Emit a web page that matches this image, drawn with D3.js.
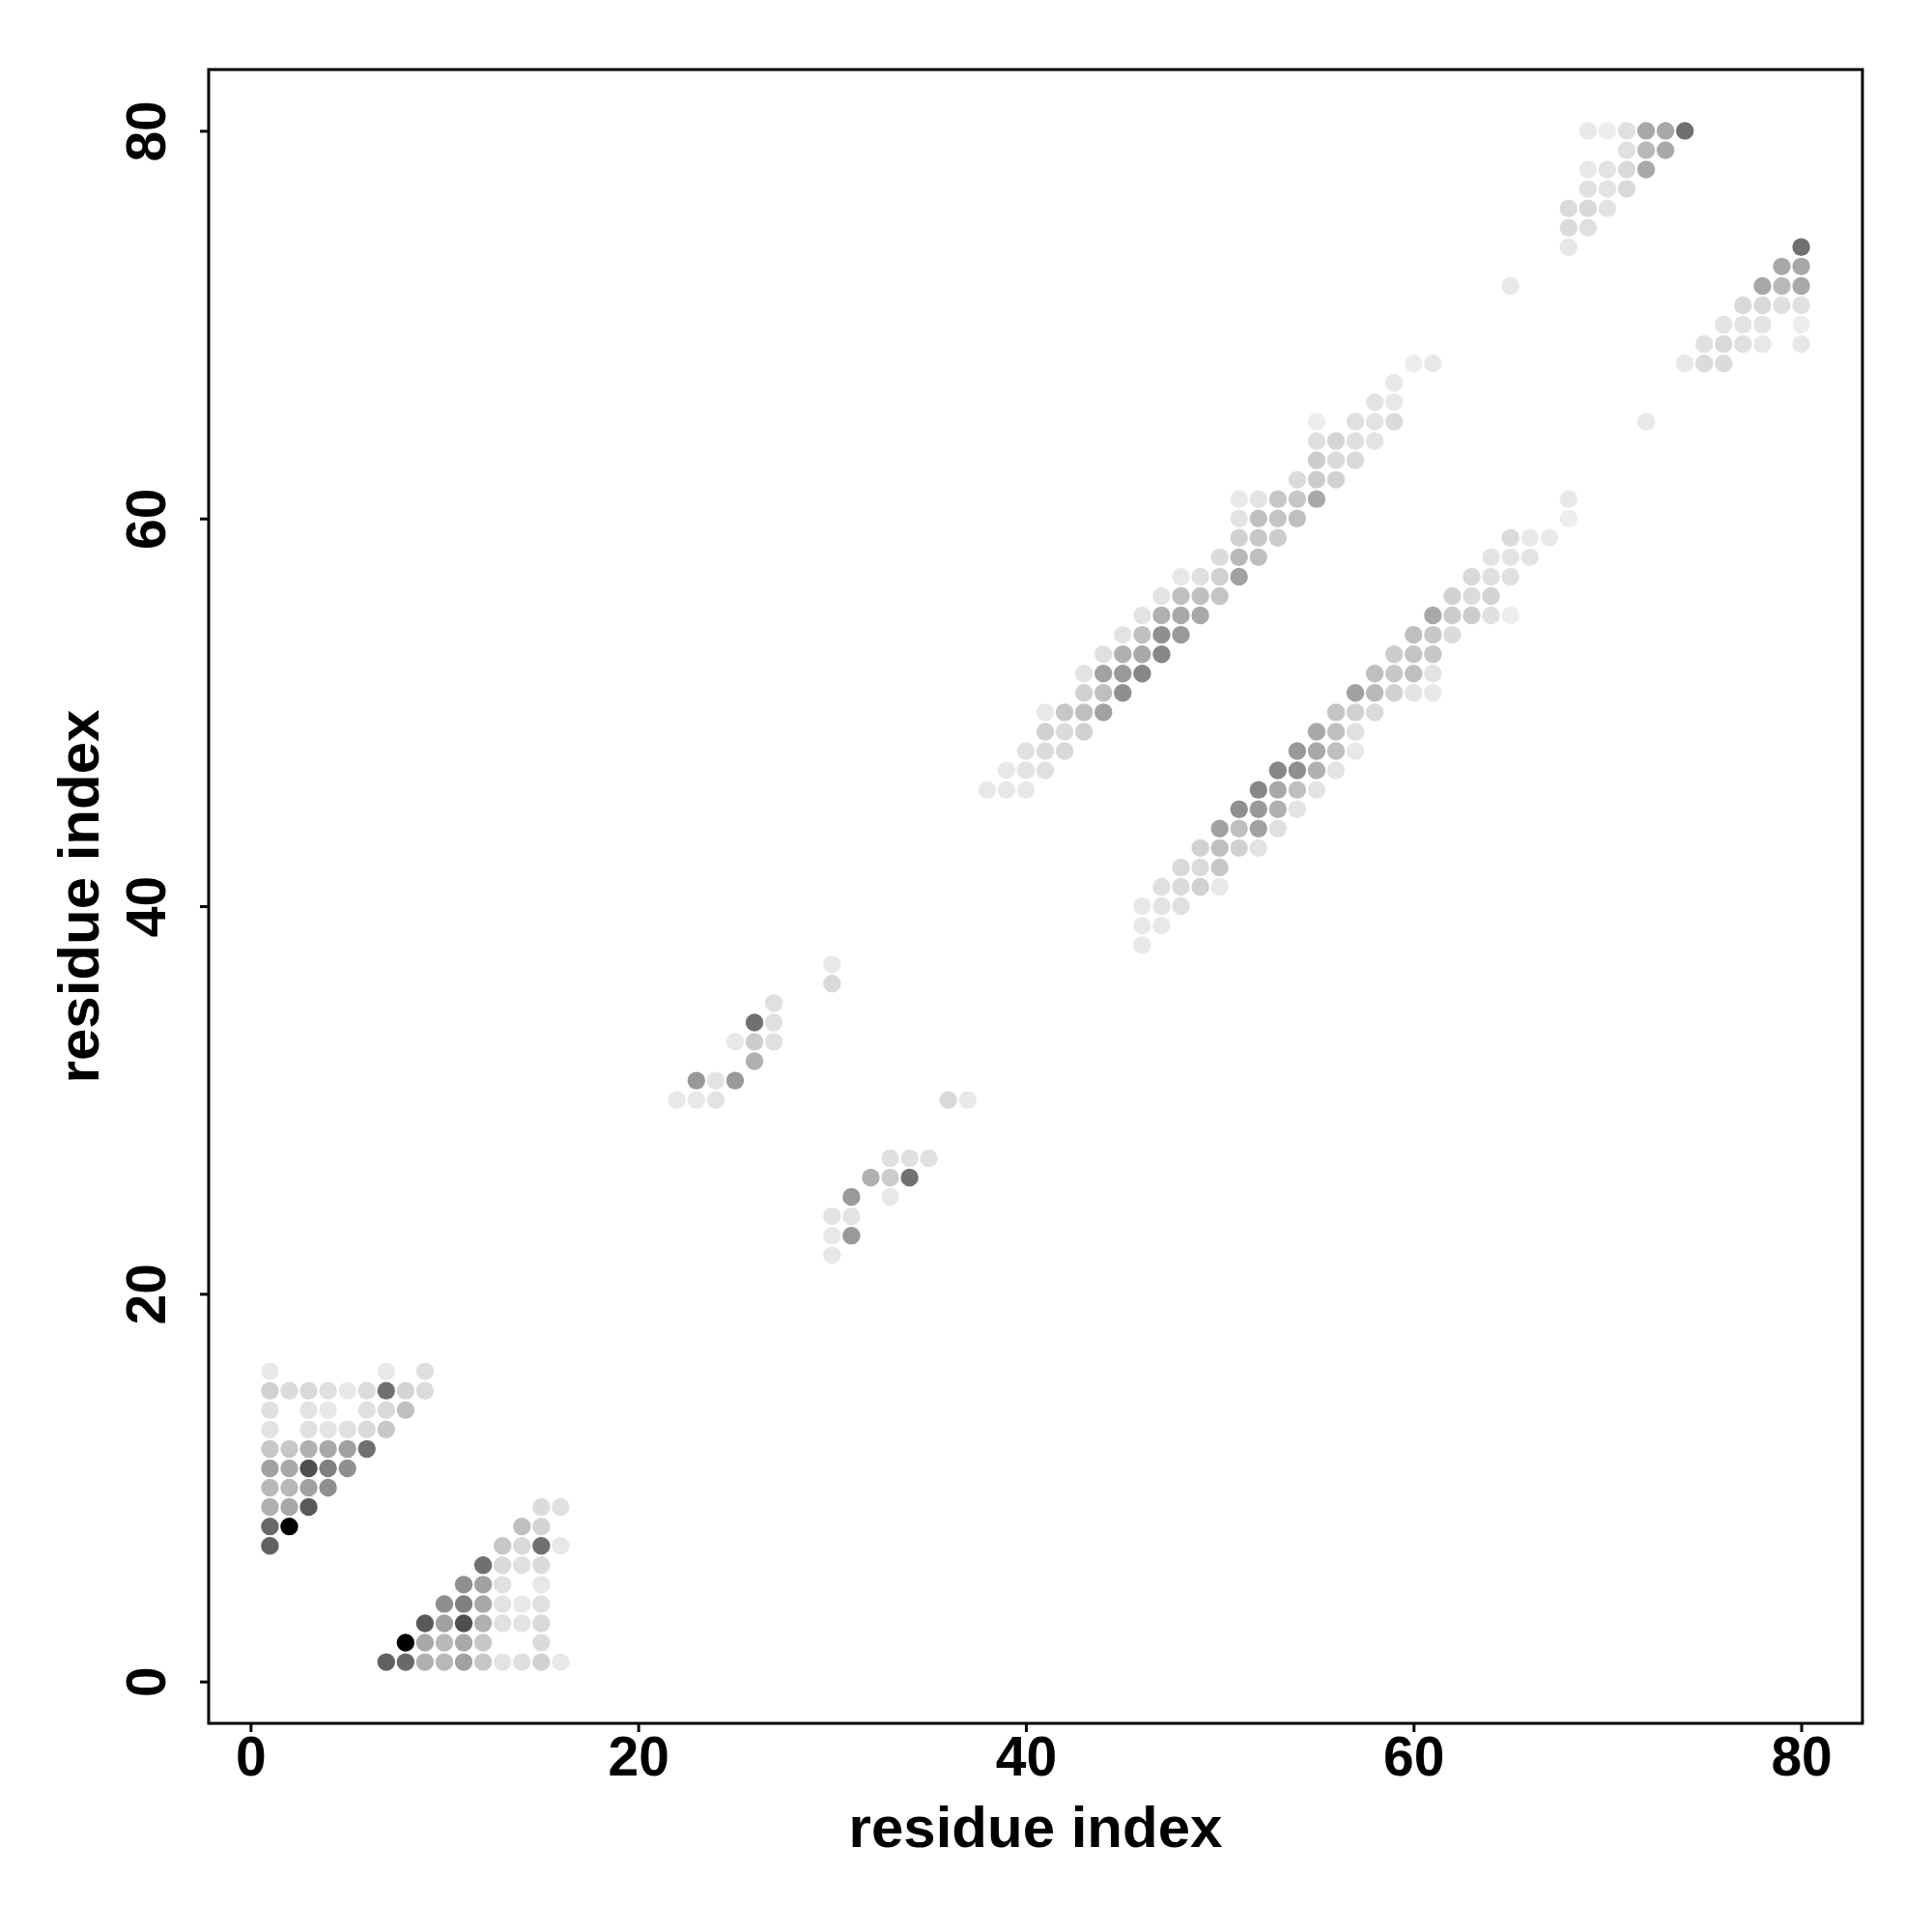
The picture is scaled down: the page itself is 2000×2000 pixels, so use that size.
<!DOCTYPE html>
<html>
<head>
<meta charset="utf-8">
<script src="https://cdn.jsdelivr.net/npm/d3@7"></script>
<style>
  html, body { margin: 0; padding: 0; background: #fff; }
  svg text { font-family: "Liberation Sans", Arial, sans-serif; font-weight: bold; fill: #000; }
</style>
</head>
<body>
<svg id="chart" width="2000" height="2000"></svg>
<script>
// Symmetric contact map: each entry [i, j, probability] with i < j; drawn at (i,j) and (j,i).
const nTermContacts = [
  [1,16,.09],[7,16,.09],[9,16,.12],
  [1,15,.18],[2,15,.14],[3,15,.15],[4,15,.12],[5,15,.09],[6,15,.14],[7,15,.56],[8,15,.17],[9,15,.14],
  [1,14,.12],[3,14,.11],[4,14,.09],[6,14,.12],[7,14,.15],[8,14,.25],
  [1,13,.11],[3,13,.12],[4,13,.11],[5,13,.12],[6,13,.15],[7,13,.22],
  [1,12,.22],[2,12,.22],[3,12,.31],[4,12,.34],[5,12,.37],[6,12,.56],
  [1,11,.37],[2,11,.34],[3,11,.69],[4,11,.50],[5,11,.44],
  [1,10,.28],[2,10,.28],[3,10,.37],[4,10,.44],
  [1,9,.31],[2,9,.34],[3,9,.65],
  [1,8,.59],[2,8,1.0],
  [1,7,.62]
];
const midContacts = [
  [22,30,.09],[23,30,.09],[24,30,.11],
  [23,31,.40],[24,31,.11],[25,31,.40],
  [26,32,.31],
  [25,33,.09],[26,33,.20],[27,33,.12],
  [26,34,.56],[27,34,.12],
  [27,35,.12],
  [30,36,.15],[30,37,.09]
];
const bandContacts = [
  [38,46,.09],[39,46,.09],[40,46,.09],
  [39,47,.09],[40,47,.11],[41,47,.12],
  [40,48,.12],[41,48,.14],[42,48,.15],
  [41,49,.18],[42,49,.14],[43,49,.18],
  [41,50,.09],[42,50,.22],[43,50,.25],[44,50,.37],
  [43,51,.18],[44,51,.25],[45,51,.44],
  [43,52,.11],[44,52,.37],[45,52,.40],[46,52,.47],
  [44,53,.12],[45,53,.31],[46,53,.34],[47,53,.47],
  [45,54,.11],[46,54,.25],[47,54,.44],[48,54,.40],
  [46,55,.11],[47,55,.31],[48,55,.34],[49,55,.34],
  [47,56,.11],[48,56,.25],[49,56,.25],[50,56,.23],
  [48,57,.09],[49,57,.12],[50,57,.18],[51,57,.37],
  [50,58,.14],[51,58,.28],[52,58,.25],
  [51,59,.18],[52,59,.22],[53,59,.20],
  [51,60,.11],[52,60,.25],[53,60,.23],[54,60,.25],
  [51,61,.09],[52,61,.11],[53,61,.22],[54,61,.22],[55,61,.34],
  [54,62,.14],[55,62,.20],[56,62,.18],
  [55,63,.20],[56,63,.14],[57,63,.15],
  [55,64,.12],[56,64,.17],[57,64,.12],[58,64,.11],
  [55,65,.07],[57,65,.12],[58,65,.11],[59,65,.14],
  [58,66,.11],[59,66,.09],
  [59,67,.09],
  [60,68,.07],[61,68,.09]
];
const cTermContacts = [
  [65,72,.09],
  [68,74,.09],
  [68,75,.14],[69,75,.12],
  [68,76,.14],[69,76,.15],[70,76,.11],
  [69,77,.12],[70,77,.11],[71,77,.15],
  [69,78,.09],[70,78,.11],[71,78,.15],[72,78,.34],
  [71,79,.12],[72,79,.28],[73,79,.34],
  [69,80,.09],[70,80,.07],[71,80,.12],[72,80,.34],[73,80,.34],[74,80,.56]
];
const xTicks = [0, 20, 40, 60, 80];
const yTicks = [0, 20, 40, 60, 80];
const axisTitle = "residue index";

const svg = d3.select("#chart");
const plotLeft = 216, plotRight = 1928, plotTop = 72, plotBottom = 1784;

// R-style 4% domain extension over data range 1..80
const lo = 1 - 0.04 * 79, hi = 80 + 0.04 * 79;
const x = d3.scaleLinear().domain([lo, hi]).range([plotLeft, plotRight]);
const y = d3.scaleLinear().domain([lo, hi]).range([plotBottom, plotTop]);

const all = [].concat(nTermContacts, midContacts, bandContacts, cTermContacts);
const points = [];
all.forEach(([i, j, p]) => {
  points.push({ x: i, y: j, p });
  points.push({ x: j, y: i, p });
});

const gray = p => { const g = Math.round(255 * (1 - p)); return `rgb(${g},${g},${g})`; };

svg.append("g").selectAll("circle").data(points).join("circle")
  .attr("cx", d => x(d.x)).attr("cy", d => y(d.y)).attr("r", 9.2)
  .attr("fill", d => gray(d.p));

// frame
svg.append("rect").attr("x", plotLeft).attr("y", plotTop)
  .attr("width", plotRight - plotLeft).attr("height", plotBottom - plotTop)
  .attr("fill", "none").attr("stroke", "#000").attr("stroke-width", 3);

// x axis
const xAxis = d3.axisBottom(x).tickValues(xTicks).tickSize(9).tickPadding(0).tickFormat(d3.format("d"));
const gx = svg.append("g").attr("transform", `translate(0,${plotBottom})`).call(xAxis);
gx.select(".domain").remove();
gx.selectAll(".tick line").attr("stroke", "#000").attr("stroke-width", 3);
gx.selectAll(".tick text").attr("dy", null).attr("y", 54)
  .style("font-size", "57px")
  .style("font-family", '"Liberation Sans", Arial, sans-serif').style("font-weight", "bold");

// y axis
const yAxis = d3.axisLeft(y).tickValues(yTicks).tickSize(9).tickPadding(0).tickFormat(d3.format("d"));
const gy = svg.append("g").attr("transform", `translate(${plotLeft},0)`).call(yAxis);
gy.select(".domain").remove();
gy.selectAll(".tick line").attr("stroke", "#000").attr("stroke-width", 3);
gy.selectAll(".tick text")
  .attr("x", null).attr("dy", null)
  .attr("text-anchor", "middle")
  .attr("transform", "translate(-45,0) rotate(-90)")
  .style("font-size", "57px")
  .style("font-family", '"Liberation Sans", Arial, sans-serif').style("font-weight", "bold");

// axis titles
svg.append("text").attr("x", (plotLeft + plotRight) / 2).attr("y", 1912)
  .attr("text-anchor", "middle").style("font-size", "60px").text(axisTitle);
svg.append("text").attr("transform", `translate(102,${(plotTop + plotBottom) / 2}) rotate(-90)`)
  .attr("text-anchor", "middle").style("font-size", "60px").text(axisTitle);
</script>
</body>
</html>
